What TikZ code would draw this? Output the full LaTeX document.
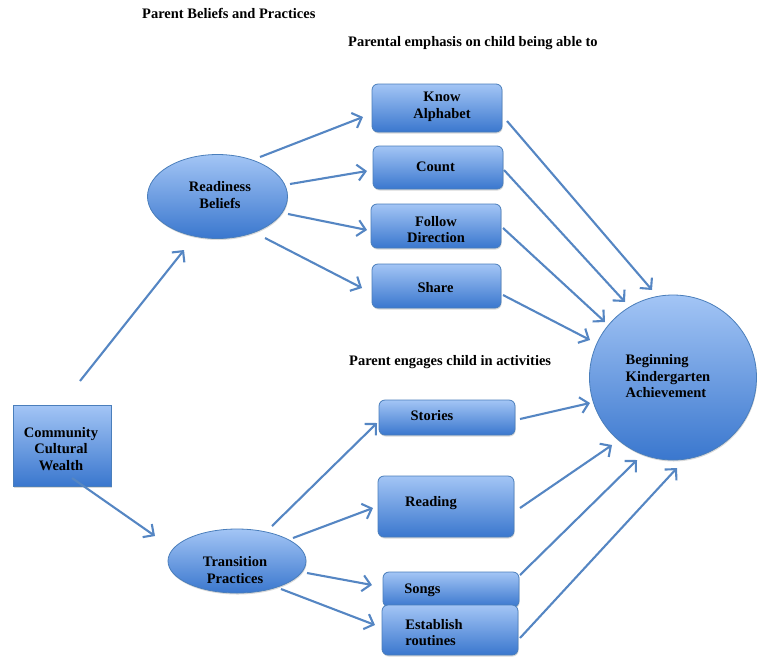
\documentclass[tikz,border=0pt]{standalone}
\usepackage{fontspec}
\setmainfont{Liberation Serif}
\usetikzlibrary{arrows.meta,shapes.geometric,shadows,calc}
\definecolor{fillTop}{HTML}{A3C5F5}
\definecolor{fillBot}{HTML}{3A77CE}
\definecolor{edgeC}{HTML}{4A7EBB}
\definecolor{arrC}{HTML}{5586C3}
\begin{document}
\begin{tikzpicture}[x=1pt,y=-1pt,
  shp/.style={draw=edgeC, line width=0.8pt, top color=fillTop, bottom color=fillBot, inner sep=0pt,
    drop shadow={opacity=0.3, shadow xshift=0.6pt, shadow yshift=-1.5pt}},
  rbox/.style={shp, rectangle, rounded corners=6pt},
  sbox/.style={shp, rectangle},
  oval/.style={shp, ellipse},
  lbl/.style={align=center, inner sep=0pt, font=\fontsize{14.5}{16.5}\selectfont\bfseries},
  lbll/.style={align=left, inner sep=0pt, font=\fontsize{14.5}{16.5}\selectfont\bfseries},
  arr/.style={draw=arrC, line width=2.1pt, -{Straight Barb[length=8pt,width=16pt,line width=2.1pt]}}
]
\useasboundingbox (0,0) rectangle (757,657);

% titles
\node[lbl, anchor=west] (t1) at (142,13) {Parent Beliefs and Practices};
\node[lbl, anchor=west] (t2) at (348,43) {Parental emphasis on child being able to};
\node[lbl, anchor=west] (t3) at (349,362) {Parent engages child in activities};

% nodes
\node[oval, minimum width=140pt, minimum height=84pt,
  label={[lbl, shift={(2.5,-1.5)}]center:{Readiness\\Beliefs}}] (rb) at (217.5,196.5) {};
\node[rbox, minimum width=130pt, minimum height=48pt,
  label={[lbl, shift={(5,-1)}]center:{Know\\Alphabet}}] (ka) at (437,108) {};
\node[rbox, minimum width=130pt, minimum height=43pt,
  label={[lbl, shift={(-2.5,-0.5)}]center:{Count}}] (co) at (438,167.5) {};
\node[rbox, minimum width=130pt, minimum height=44pt,
  label={[lbl, shift={(0,3.5)}]center:{Follow\\Direction}}] (fd) at (436,226) {};
\node[rbox, minimum width=129pt, minimum height=44pt,
  label={[lbl, shift={(-1,2)}]center:{Share}}] (sh) at (436.5,286) {};

\node[sbox, minimum width=98pt, minimum height=81pt,
  label={[lbl, shift={(-1,3.5)}]center:{Community\\Cultural\\Wealth}}] (cc) at (62,445.5) {};

\node[oval, minimum width=138pt, minimum height=64pt,
  label={[lbl, shift={(-2,9)}]center:{Transition\\Practices}}] (tp) at (237,561) {};

\node[rbox, minimum width=136pt, minimum height=35pt,
  label={[lbl, shift={(-15,-1.5)}]center:{Stories}}] (st) at (447,417.5) {};
\node[rbox, minimum width=136pt, minimum height=61pt,
  label={[lbl, shift={(-15,-3.5)}]center:{Reading}}] (rd) at (446,506.5) {};
\node[rbox, minimum width=136pt, minimum height=35pt,
  label={[lbl, shift={(-28.5,0.5)}]center:{Songs}}] (sg) at (451,589.5) {};
\node[rbox, minimum width=136pt, minimum height=50pt,
  label={[lbll, shift={(-16,2.5)}]center:{Establish\\routines}}] (er) at (450,630) {};

\node[oval, minimum width=167pt, minimum height=165pt,
  label={[lbll, shift={(-5,-1)}]center:{Beginning\\Kindergarten\\Achievement}}] (bk) at (673,377.5) {};

% connectors
\draw[arr] ($(cc)+(18,-64.5)$) -- ($(rb)+(-33.5,53.5)$);
\draw[arr] ($(rb)+(42.5,-39.5)$) -- ($(ka)+(-74,9)$);
\draw[arr] ($(rb)+(72.5,-12.5)$) -- ($(co)+(-71,3.5)$);
\draw[arr] ($(rb)+(70.5,17.5)$) -- ($(fd)+(-69,4)$);
\draw[arr] ($(rb)+(47.5,41.5)$) -- ($(sh)+(-74.5,2)$);

\draw[arr] ($(ka)+(70,13)$) -- ($(bk)+(-21,-87.5)$);
\draw[arr] ($(co)+(66,2.5)$) -- ($(bk)+(-48,-75.5)$);
\draw[arr] ($(fd)+(67,2)$) -- ($(bk)+(-68,-55.5)$);
\draw[arr] ($(sh)+(66.5,9)$) -- ($(bk)+(-83,-37.5)$);

\draw[arr] ($(cc)+(10,32.5)$) -- ($(tp)+(-82,-25)$);
\draw[arr] ($(tp)+(35,-35)$) -- ($(st)+(-70,5.5)$);
\draw[arr] ($(tp)+(56,-23)$) -- ($(rd)+(-73,1.5)$);
\draw[arr] ($(tp)+(70,12)$) -- ($(sg)+(-79,-4.5)$);
\draw[arr] ($(tp)+(44,28)$) -- ($(er)+(-75,-5)$);

\draw[arr] ($(st)+(73,1.5)$) -- ($(bk)+(-83,25.5)$);
\draw[arr] ($(rd)+(74,1.5)$) -- ($(bk)+(-61,67.5)$);
\draw[arr] ($(sg)+(69,-14.5)$) -- ($(bk)+(-36,82.5)$);
\draw[arr] ($(er)+(70,8)$) -- ($(bk)+(4,90.5)$);
\end{tikzpicture}
\end{document}
